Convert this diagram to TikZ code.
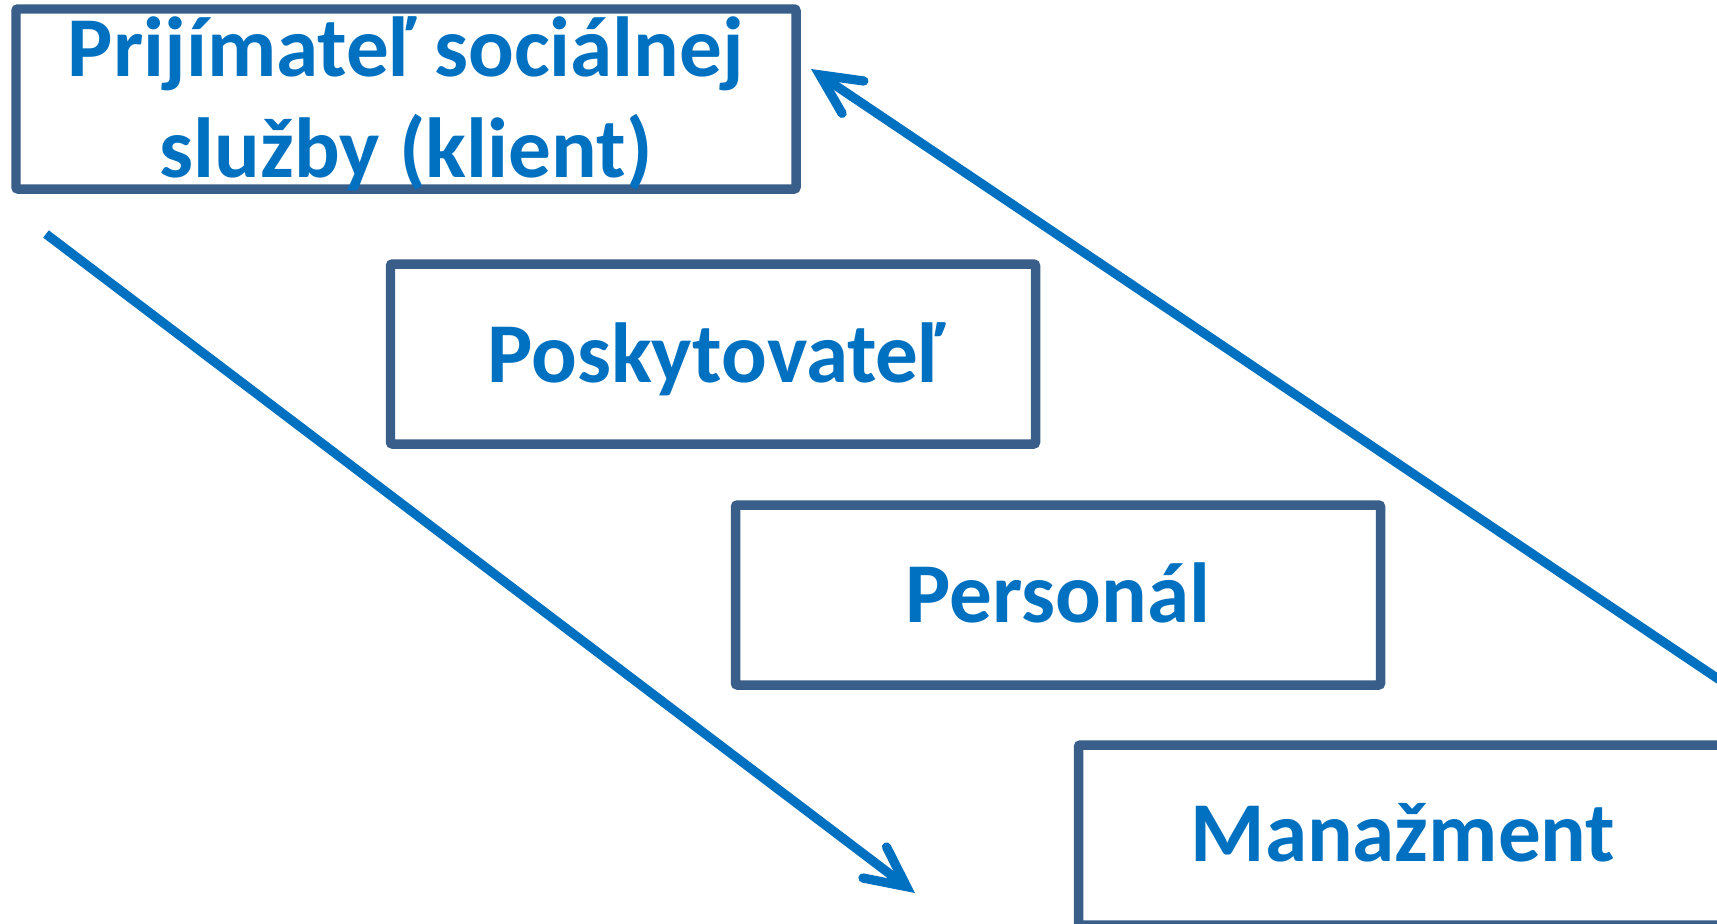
\documentclass[tikz,border=0pt]{standalone}
\usepackage{fontspec}
\setmainfont{Carlito}
\usetikzlibrary{arrows.meta}
\definecolor{boxline}{RGB}{58,94,138}
\definecolor{textblue}{RGB}{0,112,192}
\begin{document}
\begin{tikzpicture}
    \begin{scope}[x=0.02cm,y=-0.02cm]
        \pgfmathsetmacro{\boxw}{645*0.02}
        \pgfmathsetmacro{\boxh}{180*0.02}
        \useasboundingbox (0,0) rectangle (1717,923);
        \clip (0,0) rectangle (1717,923);
        \begin{scope}[every node/.style={draw=boxline,line width=0.19cm,rounded corners=0.04cm,minimum height=\boxh cm,inner sep=0pt},
                      label/.style={draw=none,text=textblue,font=\fontsize{48.5}{57}\selectfont\bfseries,align=center,anchor=base}]

            % client box, wider than the others
            \node[minimum width=780*0.02cm] (client) at (406,99) {};
            \node[label] (clienttext) at (406,177) {Prijímateľ sociálnej\\služby (klient)};

            % provider
            \node[minimum width=\boxw cm] (provider) at (713,354) {};
            \node[label] (providertext) at (716,382) {Poskytovateľ};

            % staff
            \node[minimum width=\boxw cm] (staff) at (1058,595) {};
            \node[label] (stafftext) at (1058,622) {Personál};

            % management, cut off at the page edge
            \node[minimum width=\boxw cm] (mgmt) at (1401,835) {};
            \node[label] (mgmttext) at (1403,861) {Manažment};
        \end{scope}

        % arrow ends
        \coordinate (downfrom) at (46,234);
        \coordinate (downto) at (915,893);
        \coordinate (upfrom) at (1760,707);
        \coordinate (upto) at (811,69);

        \begin{scope}[every path/.style={draw=textblue,line width=0.185cm,-{Straight Barb[length=0.8cm,width=0.78cm,line cap=round,line join=miter]}}]
            % top down
            \draw (downfrom) -- (downto);
            % bottom up
            \draw (upfrom) -- (upto);
        \end{scope}
    \end{scope}
\end{tikzpicture}
\end{document}
